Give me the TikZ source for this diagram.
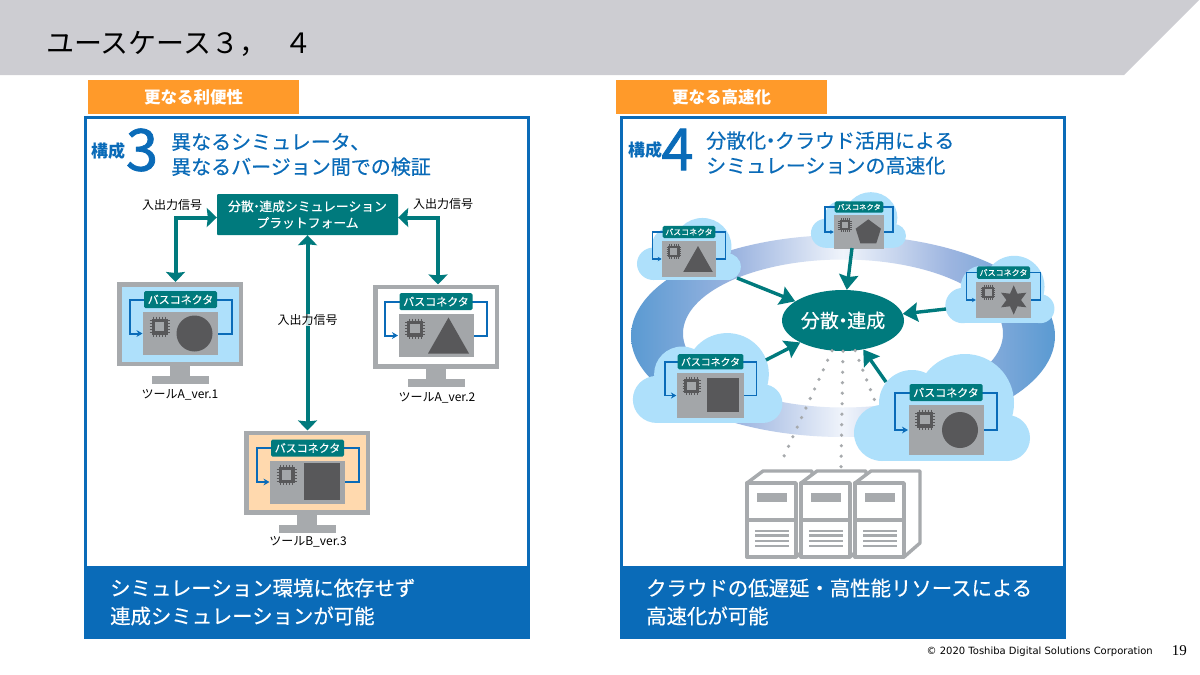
\documentclass[tikz,border=0pt]{standalone}
\usepackage{fontspec}
\setmainfont{Noto Sans CJK JP}
\newfontfamily\midfont[FakeBold=0.35]{Noto Sans CJK JP}
\newfontfamily\numfont[FakeBold=1.3]{Noto Sans CJK JP}
\newfontfamily\footfont{DejaVu Sans}
\newfontfamily\pagefont{Liberation Serif}
\definecolor{BusTeal}{HTML}{007A7D}
\definecolor{PanelBlue}{HTML}{0A6BB8}
\definecolor{TabOrange}{HTML}{FF9A2A}
\definecolor{HeadGray}{HTML}{CDCDD2}
\definecolor{FrameGray}{HTML}{A7AAAD}
\definecolor{CardGray}{HTML}{A3A6A9}
\definecolor{ShapeDark}{HTML}{58585A}
\definecolor{SkyFill}{HTML}{AEE0FB}
\definecolor{PeachFill}{HTML}{FFD9AE}
\definecolor{RingDark}{HTML}{5A9AD2}
\definecolor{RingMid}{HTML}{9DB5E0}
\definecolor{RingPale}{HTML}{F0F4FB}
\usetikzlibrary{arrows.meta,positioning,shapes.geometric}
\pgfdeclarehorizontalshading{ringblue}{100bp}{
  color(0bp)=(RingDark); color(25bp)=(RingDark); color(37.5bp)=(RingMid);
  color(50bp)=(RingPale); color(62.5bp)=(RingMid); color(75bp)=(RingDark);
  color(100bp)=(RingDark)}
\newcommand{\pxfont}[2]{\fontsize{#1pt}{#2pt}\selectfont}
\newcommand{\dotmark}{\kern-.28em・\kern-.28em}
% shapes sitting on the grey card
\newcommand{\cardcircle}{\fill[ShapeDark] (14,0) circle (18);}
\newcommand{\cardtriangle}{\fill[ShapeDark] (12.5,-18) -- (33,18) -- (-8,18) -- cycle;}
\newcommand{\cardsquare}{\fill[ShapeDark] (-4,-19) rectangle (32,18);}
\newcommand{\cardpentagon}{\fill[ShapeDark] (14,-19) -- (33,-5) -- (26,17) -- (2,17) -- (-5,-5) -- cycle;}
\newcommand{\cardstar}{\fill[ShapeDark] (14,-20) -- (19,-8.66) -- (31.3,-10) -- (24,0) -- (31.3,10)
  -- (19,8.66) -- (14,20) -- (9,8.66) -- (-3.3,10) -- (4,0) -- (-3.3,-10) -- (9,-8.66) -- cycle;}
\tikzset{
  pics/buscard/.style n args={3}{code={
    % blue loop behind the card
    \draw[line width=#3, PanelBlue, -{Stealth[length=0pt 3,width=0pt 3.4]}]
      (-20,{-#2/2-12.5}) -- (-51,{-#2/2-12.5}) -- (-51,0) -- (-38,0);
    \draw[line width=#3, PanelBlue] (20,{-#2/2-12.5}) -- (51,{-#2/2-12.5}) -- (51,0) -- (37.5,0);
    \fill[CardGray] (-37.5,{-#2/2}) rectangle (37.5,{#2/2});
    \node[fill=BusTeal, rounded corners=1.5pt, minimum width=73, minimum height=17, inner sep=0pt,
      text=white, font=\midfont\pxfont{11}{12}, transform shape] (tag) at (0,{-#2/2-12.5}) {バスコネクタ};
    % chip
    \begin{scope}[shift={(-21,{-#2/2+14.5})}]
      \foreach \t in {-6,-3,0,3,6} {
        \draw[ShapeDark, line width=.9pt*#3/2pt] (\t,-10) -- (\t,10);
        \draw[ShapeDark, line width=.9pt*#3/2pt] (-10,\t) -- (10,\t);
      }
      \fill[ShapeDark] (-8,-8) rectangle (8,8);
      \fill[CardGray] (-4.8,-4.8) rectangle (4.8,4.8);
    \end{scope}
    \csname card#1\endcsname
  }},
  pics/cloud/.style={code={
    \fill[SkyFill] (22,-4.5) circle (49) (-31,-4.5) circle (33) (-61,25.5) circle (28) (64,30.5) circle (23);
    \fill[SkyFill] (-61,-4) rectangle (64,53.5);
  }},
  pics/stand/.style={code={
    \fill[FrameGray] (-10,0) rectangle (10,11);
    \fill[FrameGray] (-28.5,10) rectangle (28.5,18);
  }},
  pics/server/.style={code={
    \draw[FrameGray, line width=3.4pt, fill=white, line join=round]
      (0,0) -- (16,-12) -- (65,-12) -- (65,60) -- (49,74) -- (0,74) -- cycle;
    \draw[FrameGray, line width=3.4pt, fill=white, line join=round] (0,0) rectangle (49,74);
    \fill[FrameGray] (10,10) rectangle (40,19);
    \draw[FrameGray, line width=3.4pt] (0,37) -- (49,37);
    \foreach \y in {48,52.5,58,63} {
      \draw[FrameGray, line width=2.6pt] (8,\y) -- (42,\y);
    }
  }}
}
\begin{document}
\begin{tikzpicture}[
    x=1pt, y=-1pt,
    tab/.style={fill=TabOrange, minimum width=211, minimum height=34, inner sep=0pt,
      text=white, font=\bfseries\pxfont{16.5}{18}},
    panel/.style={draw=PanelBlue, line width=3pt, fill=white, minimum width=443, minimum height=520, inner sep=0pt},
    banner/.style={fill=PanelBlue, minimum width=446, minimum height=72, inner sep=0pt},
    bannertext/.style={anchor=west, align=left, text=white, font=\midfont\pxfont{20.4}{28}, inner sep=0pt},
    heading/.style={anchor=west, align=left, text=PanelBlue, font=\midfont\pxfont{20}{25}, inner sep=0pt},
    kousei/.style={anchor=west, text=PanelBlue, font=\bfseries\pxfont{17}{18}, inner sep=0pt},
    bignum/.style={anchor=center, text=PanelBlue, font=\numfont\pxfont{58}{60}, inner sep=0pt},
    screen/.style={draw=FrameGray, line width=4.5pt, minimum width=121.5, minimum height=79.5, inner sep=0pt},
    signal/.style={font=\pxfont{12}{14}, inner sep=0pt},
    dbl/.style={{Stealth[length=10pt,width=19pt,inset=1pt]}-{Stealth[length=10pt,width=19pt,inset=1pt]},
      line width=4pt, BusTeal},
    arr/.style={-{Stealth[length=15pt,width=19pt,inset=2pt]}, line width=3.4pt, BusTeal},
    dots/.style={FrameGray, line width=3.6pt, line cap=round, dash pattern=on 0pt off 10.5pt}
  ]
    \useasboundingbox (0,0) rectangle (1200,675);
    % title bar
    \fill[HeadGray] (0,0) -- (1199,0) -- (1124,75) -- (0,75) -- cycle;
    \node[anchor=west, inner sep=0pt, font=\pxfont{28}{30}] (title) at (46,43.5) {ユースケース３，\kern.6em４};

    % left panel
    \node[tab] (tabL) at (193.5,97) {更なる利便性};
    \node[panel] (panelL) at (306.5,377.5) {};
    \node[banner] (bannerL) at (307,602) {};
    \node[bannertext] (bannerLtext) at (110,602) {シミュレーション環境に依存せず\\連成シミュレーションが可能};
    \node[kousei] (koseiL) at (91,151) {構成};
    \node[bignum] (numL) at (142,150) {3};
    \node[heading] (headL) at (171,154.5) {異なるシミュレータ、\\異なるバージョン間での検証};

    \node[fill=BusTeal, minimum width=181, minimum height=41, inner sep=0pt, rounded corners=1pt,
      align=center, text=white, font=\midfont\pxfont{12.8}{16.5}] (platform) at (307.5,214.5)
      {分散\dotmark 連成シミュレーション\\プラットフォーム};

    \node[screen, fill=SkyFill] (screenA) at (180,324) {};
    \node[screen, fill=white] (screenB) at (436,326.5) {};
    \node[screen, fill=PeachFill] (screenC) at (307,472.5) {};
    \pic at (screenA.south) {stand};
    \pic at (screenB.south) {stand};
    \pic at (screenC.south) {stand};
    \pic at (180.5,333.5) {buscard={circle}{43}{2pt}};
    \pic at (436,335.5) {buscard={triangle}{43}{2pt}};
    \pic at (307.5,482) {buscard={square}{43}{2pt}};
    \node[signal] (toolA) at (180,395) {ツールA\_ver.1};
    \node[signal] (toolB) at (437,398) {ツールA\_ver.2};
    \node[signal] (toolC) at (308,542) {ツールB\_ver.3};

    \draw[dbl] ([yshift=-3pt]platform.west) -| ([xshift=-4.5pt]screenA.north);
    \draw[dbl] ([yshift=-3pt]platform.east) -| ([xshift=2pt]screenB.north);
    \draw[dbl] (platform.south) -- (platform.south |- screenC.north);
    \node[signal] (sigA) at (172,205) {入出力信号};
    \node[signal] (sigB) at (443,204) {入出力信号};
    \node[signal, fill=white, fill opacity=.8, text opacity=1] (sigC) at (307.5,320) {入出力信号};

    % right panel
    \node[tab] (tabR) at (721.5,97) {更なる高速化};
    \node[panel] (panelR) at (842.5,377.5) {};
    \node[banner] (bannerR) at (842.5,602) {};
    \node[bannertext] (bannerRtext) at (646,602) {クラウドの低遅延・高性能リソースによる\\高速化が可能};
    \node[kousei] (koseiR) at (628,150) {構成};
    \node[bignum] (numR) at (677.5,149.5) {4};
    \node[heading] (headR) at (706,153) {分散化\dotmark クラウド活用による\\シミュレーションの高速化};

    % ring behind the clouds
    \shade[shading=ringblue, even odd rule] (843,336) ellipse [x radius=212, y radius=101]
      (843,333.5) ellipse [x radius=160, y radius=74];
    \node[ellipse, fill=BusTeal, minimum width=122, minimum height=61, inner sep=0pt,
      text=white, font=\midfont\pxfont{19}{20}] (bond) at (843,320.5) {分散\dotmark 連成};

    % links down to the servers
    \coordinate (rackL) at (780,465);
    \coordinate (rackM) at (841,467);
    \coordinate (rackR) at (900,465);
    \draw[dots] (bond.250) -- (rackL);
    \draw[dots] (bond.270) -- (rackM);
    \draw[dots] (bond.292) -- (rackR);
    \pic at (747,483) {server};
    \pic at (801,483) {server};
    \pic at (855,483) {server};

    \pic[xscale=.59, yscale=.58] at (689.5,249) {cloud};
    \pic[xscale=.54, yscale=.52] at (859,220) {cloud};
    \pic[xscale=.62, yscale=.63] at (1000.5,289.5) {cloud};
    \pic[xscale=.85, yscale=.84] at (708.5,378) {cloud};
    \pic at (943,407.5) {cloud};

    \pic[scale=.72, transform shape] at (689,259) {buscard={triangle}{50}{1.3pt}};
    \pic[scale=.665, transform shape] at (859,232) {buscard={pentagon}{50}{1.2pt}};
    \pic[scale=.73, transform shape] at (1003.5,300) {buscard={star}{50}{1.3pt}};
    \pic[scale=.9, transform shape] at (710.5,395.5) {buscard={square}{50}{1.8pt}};
    \pic at (946,430) {buscard={circle}{50}{2pt}};

    \coordinate (edgeA) at (737,278);
    \coordinate (edgeB) at (852,248);
    \coordinate (edgeC) at (946,309);
    \coordinate (edgeD) at (766,360);
    \coordinate (edgeE) at (886,382);
    \foreach \e in {edgeA,edgeB,edgeC,edgeD,edgeE} {
      \draw[arr] (\e) -- (bond);
    }

    % footer
    \node[anchor=east, inner sep=0pt, font=\footfont\pxfont{10}{12}] (copy) at (1153,652)
      {© 2020 Toshiba Digital Solutions Corporation};
    \node[anchor=east, inner sep=0pt, font=\pagefont\pxfont{15}{16}] (page) at (1187,651) {19};
  \end{tikzpicture}
\end{document}
